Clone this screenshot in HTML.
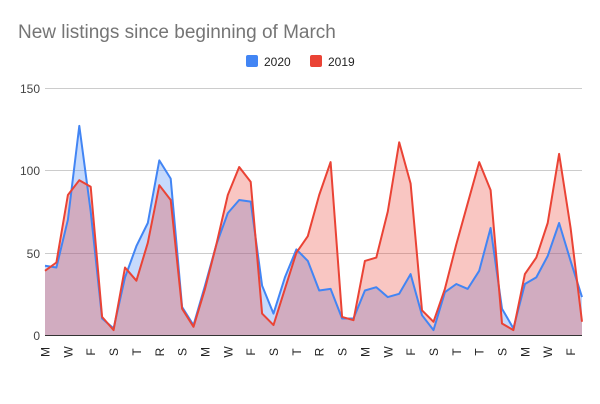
<!DOCTYPE html>
<html><head><meta charset="utf-8"><style>
body{margin:0;background:#fff;}
svg{display:block;font-family:"Liberation Sans",Arial,sans-serif;}
</style></head><body>
<svg id="c" width="600" height="404" xmlns="http://www.w3.org/2000/svg">
<rect width="600" height="404" fill="#fff"/>
<text x="18" y="38" font-size="19" fill="#757575">New listings since beginning of March</text>
<rect x="246" y="55" width="12" height="12" rx="2" fill="#4285f4"/>
<text x="264" y="66" font-size="12" fill="#222">2020</text>
<rect x="310" y="55" width="12" height="12" rx="2" fill="#ea4335"/>
<text x="328" y="66" font-size="12" fill="#222">2019</text>
<g stroke="#ccc" stroke-width="1">
<line x1="45" x2="582" y1="88.5" y2="88.5"/>
<line x1="45" x2="582" y1="170.5" y2="170.5"/>
<line x1="45" x2="582" y1="253.5" y2="253.5"/>
</g>
<g font-size="12" fill="#444" text-anchor="end">
<text x="40" y="93">150</text><text x="40" y="175">100</text><text x="40" y="258">50</text><text x="40" y="340">0</text>
</g>
<g id="plot"></g>
<line x1="45" x2="582" y1="335.5" y2="335.5" stroke="#333" stroke-width="1"/>
<g id="xl" font-size="12" fill="#222"></g>
</svg>
<script>
var b=[42,41,70,127,75,10,4,35,54,68,106,95,17,6,30,55,74,82,81,30,13,35,52,45,27,28,10,10,27,29,23,25,37,12,3,26,31,28,39,65,16,4,31,35,48,68,45,23];
var r=[39,44,85,94,90,11,3,41,33,56,91,82,16,5,28,55,85,102,93,13,6,28,50,60,85,105,11,9,45,47,75,117,92,15,8,28,55,80,105,88,7,3,37,47,68,110,65,8];
var x0=45,dx=537/47,y0=335,k=1.6467;
function pts(a){return a.map(function(v,i){return (x0+i*dx).toFixed(1)+","+(y0-v*k).toFixed(1)}).join(" ");}
function area(a){return x0+","+y0+" "+pts(a)+" "+(x0+47*dx).toFixed(1)+","+y0;}
var ns="http://www.w3.org/2000/svg",p=document.getElementById("plot");
function add(tag,at){var e=document.createElementNS(ns,tag);for(var q in at)e.setAttribute(q,at[q]);p.appendChild(e);}
add("polygon",{points:area(b),fill:"#4285f4","fill-opacity":"0.3"});
add("polygon",{points:area(r),fill:"#ea4335","fill-opacity":"0.3"});
add("polyline",{points:pts(b),fill:"none",stroke:"#4285f4","stroke-width":"2","stroke-linejoin":"round"});
add("polyline",{points:pts(r),fill:"none",stroke:"#ea4335","stroke-width":"2","stroke-linejoin":"round"});
var L=["M","W","F","S","T","R","S","M","W","F","S","T","R","S","M","W","F","S","T","T","S","M","W","F"];
var g=document.getElementById("xl");
L.forEach(function(s,j){var x=x0+2*j*dx+4.5;var t=document.createElementNS(ns,"text");t.setAttribute("transform","translate("+x.toFixed(1)+",352) rotate(-90)");t.setAttribute("text-anchor","middle");t.textContent=s;g.appendChild(t);});
</script>
</body></html>
